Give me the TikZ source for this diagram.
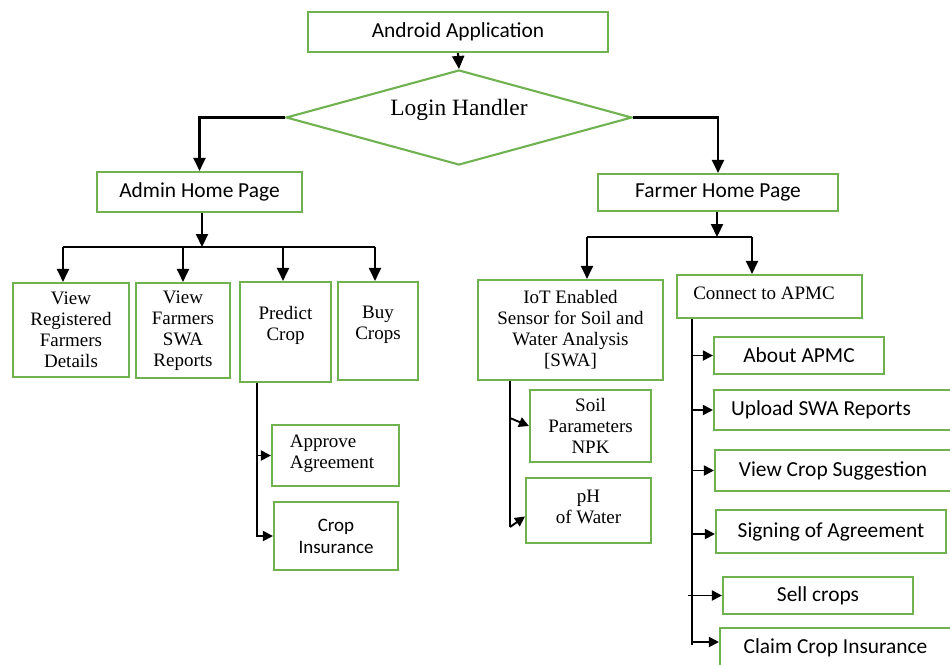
\documentclass[tikz,border=0pt]{standalone}
\usepackage{fontspec}
\setmainfont{Liberation Serif}
\newfontfamily\calib{Carlito}
\usetikzlibrary{arrows.meta,shapes.geometric}
\definecolor{boxgreen}{RGB}{112,178,80}
\tikzset{
  gbox/.style={draw=boxgreen, line width=2.1pt, fill=white, inner sep=0pt},
  serif/.style={font=\fontsize{19}{21}\selectfont, align=center, inner sep=0pt},
  sans/.style={font=\calib\fontsize{21.4}{25}\selectfont, align=center, inner sep=0pt},
  sanssmall/.style={font=\calib\fontsize{19}{22}\selectfont, align=center, inner sep=0pt},
  wire/.style={draw=black, line width=2.2pt},
  arr/.style={wire, -{Triangle[length=13pt, width=12pt]}},
  stem/.style={draw=black, line width=1.5pt},
  sarr/.style={draw=black, line width=1.9pt, -{Triangle[length=10pt, width=10pt]}},
}
\begin{document}
\begin{tikzpicture}[x=1pt, y=-1pt]
\useasboundingbox (0,0) rectangle (950,664);

% top of the flow
\node[gbox, sans, minimum width=300, minimum height=40] (app) at (458,32) {Android Application};
\node[diamond, draw=boxgreen, line width=2.1pt, aspect=3.64, minimum width=346, minimum height=95, inner sep=0pt] (login) at (459,117.5) {};
\node[font=\fontsize{23.4}{28}\selectfont, inner sep=0pt] (loginT) at (459,110) {Login Handler};

% admin side
\node[gbox, sans, minimum width=205, minimum height=40] (admin) at (199.5,192) {Admin Home Page};
\node[gbox, serif, minimum width=116, minimum height=94] (vr) at (71,330) {View\\Registered\\Farmers\\Details};
\node[gbox, serif, minimum width=94, minimum height=95] (vs) at (183,330.5) {View\\Farmers\\SWA\\Reports};
\node[gbox, minimum width=91, minimum height=100] (pc) at (285.5,332) {};
\node[serif] (pcT) at (285.5,325) {Predict\\Crop};
\node[gbox, minimum width=80, minimum height=98] (bc) at (378,331) {};
\node[serif] (bcT) at (378,324.5) {Buy\\Crops};
\node[gbox, minimum width=127, minimum height=61] (aa) at (335.5,455.5) {};
\node[serif, align=left] (aaT) at (332,454) {Approve\\Agreement};
\node[gbox, sanssmall, minimum width=124, minimum height=68] (ci) at (336,536) {Crop\\Insurance};

% farmer side
\node[gbox, sans, minimum width=240, minimum height=37] (farmer) at (718,192.5) {Farmer Home Page};
\node[gbox, serif, minimum width=185, minimum height=100] (iot) at (570.5,330) {IoT Enabled\\Sensor for Soil and\\Water Analysis\\{[SWA]}};
\node[gbox, minimum width=185, minimum height=43] (apmc) at (769.5,296.5) {};
\node[serif] (apmcT) at (764,293) {Connect to APMC};
\node[gbox, serif, minimum width=121, minimum height=72] (soil) at (590.5,426) {Soil\\Parameters\\NPK};
\node[gbox, minimum width=125, minimum height=65] (ph) at (588.5,510.5) {};
\node[serif] (phT) at (588.5,506.5) {pH\\of Water};

\node[gbox, sans, minimum width=170, minimum height=37] (about) at (799,355.5) {About APMC};
\node[gbox, minimum width=246, minimum height=40] (upl) at (837,410) {};
\node[sans] (uplT) at (821,410) {Upload SWA Reports};
\node[gbox, minimum width=245, minimum height=41] (vcs) at (837.5,470.5) {};
\node[sans] (vcsT) at (833,470.5) {View Crop Suggestion};
\node[gbox, sans, minimum width=230, minimum height=43] (sign) at (831,531.5) {Signing of Agreement};
\node[gbox, sans, minimum width=190, minimum height=37] (sell) at (818,595.5) {Sell crops};
\node[gbox, minimum width=240, minimum height=44] (claim) at (840,650) {};
\node[sans] (claimT) at (835.5,648) {Claim Crop Insurance};

% connectors: top
\draw[arr] (app.south) -- (login.north);
\draw[arr] (login.west) -| (admin.north);
\draw[arr] (login.east) -| (farmer.north);

% connectors: admin fan-out
\coordinate (abar) at (202,247);
\coordinate (abl) at (63,247);
\coordinate (abr) at (375,247);
\draw[arr] (admin.south -| abar) -- (abar);
\draw[wire] (abl) -- (abr);
\draw[arr] (abl) -- (abl |- vr.north);
\draw[arr] (vs.north |- abar) -- (vs.north);
\draw[arr] ([xshift=-2.5]pc.north |- abar) -- ([xshift=-2.5]pc.north);
\draw[arr] (abr) -- (abr |- bc.north);

% connectors: predict crop
\draw[sarr] ([xshift=-28.5]pc.south) |- (aa.west);
\draw[sarr] ([xshift=-28.5]pc.south) |- (ci.west);

% connectors: farmer fan-out
\coordinate (fbar) at (717,237);
\coordinate (fbl) at (587,237);
\coordinate (fbr) at (752,237);
\draw[arr] (farmer.south -| fbar) -- (fbar);
\draw[wire] (fbl) -- (fbr);
\draw[arr] (fbl) -- (fbl |- iot.north);
\draw[arr] (fbr) -- (fbr |- apmc.north);

% connectors: sensor
\coordinate (isoil) at (510,418);
\coordinate (ibot) at (510,527);
\draw[stem] (ibot |- iot.south) -- (ibot);
\draw[sarr] (isoil) -- (soil.west);
\draw[sarr] (ibot) -- ([yshift=-6]ph.west);

% connectors: APMC menu
\coordinate (cbot) at (692,645);
\draw[stem] (cbot |- apmc.south) -- (cbot);
\draw[sarr] (cbot |- about.west) -- (about.west);
\draw[sarr] (cbot |- upl.west) -- (upl.west);
\draw[sarr] (cbot |- vcs.west) -- (vcs.west);
\draw[sarr] ([yshift=-2.5]cbot |- sign.west) -- ([yshift=-2.5]sign.west);
\draw[sarr] ([xshift=-4]cbot |- sell.west) -- (sell.west);
\draw[sarr] ([yshift=8]cbot |- claim.west) -- ([yshift=8]claim.west);
\end{tikzpicture}
\end{document}
